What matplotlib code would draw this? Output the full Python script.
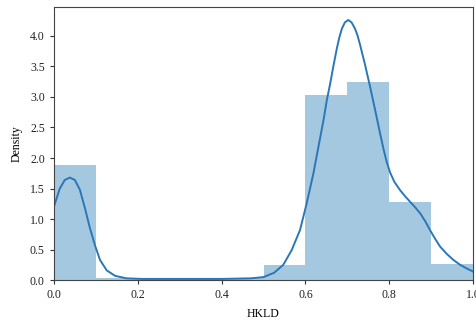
from matplotlib import pyplot as plt

# Histogram of HKLD values (density per 0.1-wide bin)
bin_edges = [0.0, 0.1, 0.2, 0.3, 0.4, 0.5, 0.6, 0.7, 0.8, 0.9]
bin_heights = [1.88, 0.04, 0.04, 0.04, 0.04, 0.25, 3.03, 3.24, 1.28, 0.27]
bin_width = 0.1

# Kernel density estimate
kde_x = [0.0, 0.014, 0.026, 0.038, 0.050, 0.062, 0.074, 0.086, 0.098, 0.110,
         0.126, 0.146, 0.173, 0.21, 0.30, 0.40, 0.47, 0.50, 0.525, 0.547,
         0.567, 0.587, 0.603, 0.619, 0.635, 0.643, 0.651, 0.659, 0.667, 0.675,
         0.681, 0.687, 0.694, 0.702, 0.710, 0.718, 0.724, 0.730, 0.742, 0.754,
         0.766, 0.778, 0.786, 0.794, 0.802, 0.812, 0.826, 0.838, 0.850, 0.862,
         0.874, 0.886, 0.897, 0.909, 0.921, 0.937, 0.953, 0.969, 0.985, 1.0]
kde_y = [1.20, 1.50, 1.64, 1.68, 1.64, 1.48, 1.18, 0.85, 0.57, 0.33,
         0.16, 0.07, 0.03, 0.02, 0.02, 0.02, 0.03, 0.05, 0.12, 0.25,
         0.49, 0.82, 1.26, 1.75, 2.33, 2.62, 2.95, 3.22, 3.52, 3.80,
         3.98, 4.12, 4.22, 4.26, 4.22, 4.12, 4.01, 3.86, 3.53, 3.17,
         2.79, 2.40, 2.15, 1.93, 1.76, 1.61, 1.47, 1.37, 1.28, 1.19,
         1.09, 0.96, 0.82, 0.68, 0.55, 0.43, 0.33, 0.25, 0.19, 0.14]

plt.rcParams['font.family'] = ['Liberation Serif', 'DejaVu Serif']

fig = plt.figure(figsize=(4.77, 3.25), dpi=100)
ax = fig.add_axes([0.113, 0.138, 0.879, 0.840])

ax.bar(bin_edges, bin_heights, width=bin_width, align='edge',
       color='#1f77b4', alpha=0.4, linewidth=0)
ax.plot(kde_x, kde_y, color='#2b77b6', linewidth=1.4, solid_joinstyle='round')

ax.set_xlim(0, 1.0)
ax.set_ylim(0, 4.47)
ax.set_xticks([0.0, 0.2, 0.4, 0.6, 0.8, 1.0])
ax.set_yticks([0.0, 0.5, 1.0, 1.5, 2.0, 2.5, 3.0, 3.5, 4.0])
ax.tick_params(labelsize=8.5, length=3, width=0.8, colors='#333333', labelcolor='#222222')
for s in ax.spines.values():
    s.set_color('#444444')
    s.set_linewidth(0.8)

ax.set_xlabel('HKLD', fontsize=8.5, labelpad=5)
ax.set_ylabel('Density', fontsize=8.5, labelpad=5)

fig.savefig('out.png', dpi=100)
